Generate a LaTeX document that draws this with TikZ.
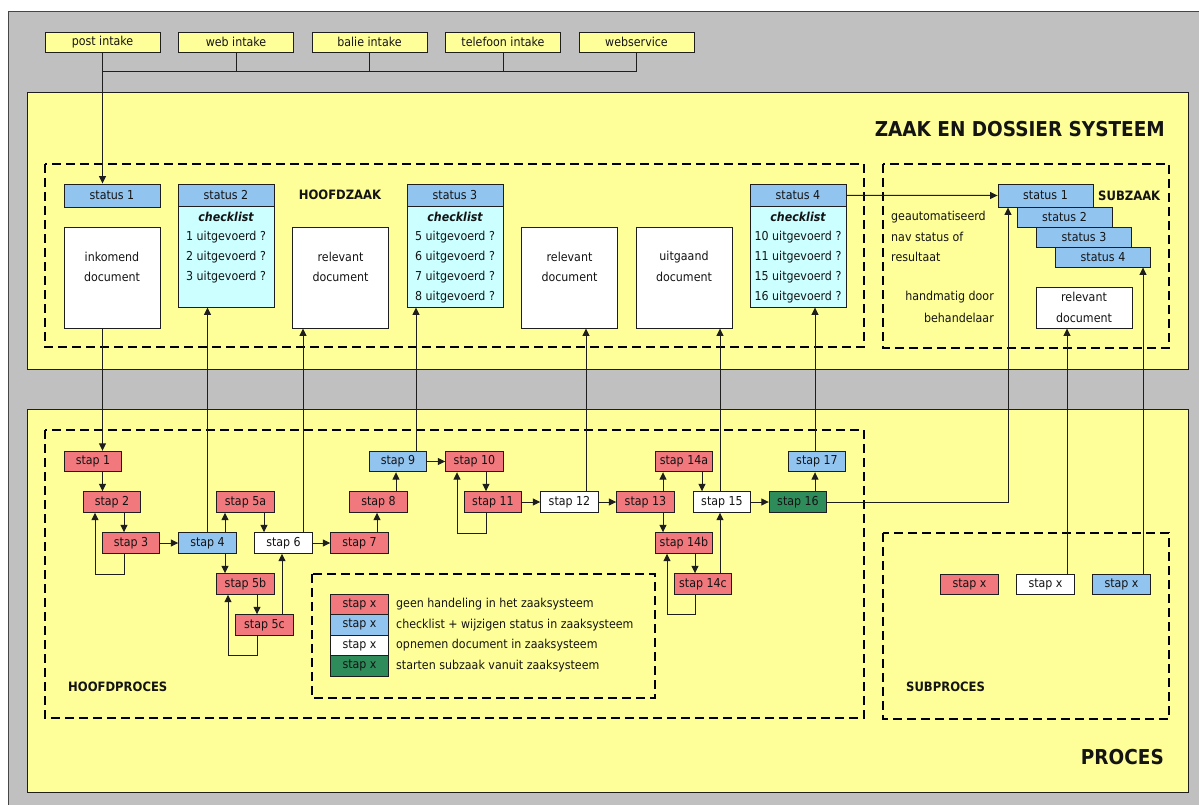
\documentclass[tikz,border=0pt]{standalone}
\usepackage{fontspec}
\setmainfont{DejaVu Sans}[FakeStretch=0.9]
\usetikzlibrary{arrows.meta}
\definecolor{bggray}{RGB}{192,192,192}
\definecolor{panel}{RGB}{255,255,153}
\definecolor{stred}{RGB}{241,120,124}
\definecolor{stblue}{RGB}{146,196,240}
\definecolor{stcyan}{RGB}{204,255,255}
\definecolor{stgreen}{RGB}{46,140,90}
\definecolor{lc}{RGB}{30,30,30}
\definecolor{tc}{RGB}{20,20,20}
\newcommand{\sfs}{\fontsize{12.3}{14}\selectfont}
\newcommand{\mfs}{\fontsize{12.9}{16}\selectfont\bfseries}
\newcommand{\tfs}{\fontsize{20.5}{24}\selectfont\bfseries}
\begin{document}
\begin{tikzpicture}[x=1pt,y=-1pt,
  every node/.style={text=tc, inner sep=0pt},
  base/.style={draw=lc, line width=0.9pt, font=\sfs},
  stapbox/.style={base, minimum width=57.5pt, minimum height=20.5pt},
  stapred/.style={stapbox, fill=stred},
  stapblue/.style={stapbox, fill=stblue},
  stapwhite/.style={stapbox, fill=white},
  stapgreen/.style={stapbox, fill=stgreen},
  intake/.style={base, fill=panel, minimum width=115pt, minimum height=20pt},
  docbox/.style={base, fill=white, minimum width=96pt, minimum height=101pt},
  statbox/.style={base, fill=stcyan, minimum width=96pt, minimum height=123pt},
  hdr/.style={base, fill=stblue, minimum width=96pt, minimum height=22.5pt},
  zstat/.style={base, fill=stblue, minimum width=95pt, minimum height=20pt},
  txt/.style={font=\sfs},
  dbox/.style={draw=black, line width=2.2pt, dash pattern=on 9pt off 5pt},
  ln/.style={draw=lc, line width=1pt},
  arr/.style={ln, -{Triangle[length=7.5pt,width=7pt]}}
]
\useasboundingbox (0,0) rectangle (1199,805);
\fill[white] (0,0) rectangle (1199,805);
\draw[fill=bggray, draw=gray!55!black, line width=0.8pt] (8,11) rectangle (1215,820);
\draw[fill=panel, draw=lc, line width=0.8pt] (27,92) rectangle (1188,369);
\draw[fill=panel, draw=lc, line width=0.8pt] (27,409) rectangle (1188,792);

% dashed groups
\draw[dbox] (45,164) rectangle (864,347);
\draw[dbox] (883,164) rectangle (1169,348);
\draw[dbox] (45,430) rectangle (864,718);
\draw[dbox] (883,533) rectangle (1169,719);
\draw[dbox] (312,574) rectangle (655,698);

% titles
\node[anchor=east, font=\tfs] (ttlzaak) at (1165,129) {ZAAK EN DOSSIER SYSTEEM};
\node[anchor=east, font=\tfs] (ttlproc) at (1164,757) {PROCES};
\node[font=\mfs] (lblhz) at (340,195) {HOOFDZAAK};
\node[font=\mfs, anchor=west] (lblsz) at (1098,196) {SUBZAAK};
\node[font=\mfs, anchor=west] (lblhp) at (68,687) {HOOFDPROCES};
\node[font=\mfs, anchor=west] (lblsp) at (906,687) {SUBPROCES};

% intake
\node[intake] (pi) at (102.5,42) {post intake};
\node[intake] (wi) at (236,42) {web intake};
\node[intake] (bi) at (369.5,42) {balie intake};
\node[intake] (ti) at (503,42) {telefoon intake};
\node[intake] (ws) at (636.5,42) {webservice};
\coordinate (junc) at (102.5,72);
\draw[ln] (wi.south) |- (junc);
\draw[ln] (bi.south) -- (bi.south |- junc);
\draw[ln] (ti.south) -- (ti.south |- junc);
\draw[ln] (ws.south) |- (junc);

% hoofdzaak
\node[hdr, minimum height=23pt] (hst1) at (112,195.5) {status 1};
\node[docbox] (ink) at (112,277.5) {};
\node[txt] (inkt1) at (112,257) {inkomend};
\node[txt] (inkt2) at (112,277) {document};

\node[statbox] (st2) at (226,245.5) {};
\node[hdr, anchor=north] (st2h) at (st2.north) {status 2};
\node[txt, font=\sfs\bfseries\itshape] (st2c) at (226,217) {checklist};
\node[txt] (st2a) at (226,237) {1 uitgevoerd ?};
\node[txt] (st2b) at (226,257) {2 uitgevoerd ?};
\node[txt] (st2d) at (226,277) {3 uitgevoerd ?};

\node[docbox] (rd1) at (340.5,277.5) {};
\node[txt] (rd1t1) at (340.5,257) {relevant};
\node[txt] (rd1t2) at (340.5,277) {document};

\node[statbox] (st3) at (455,245.5) {};
\node[hdr, anchor=north] (st3h) at (st3.north) {status 3};
\node[txt, font=\sfs\bfseries\itshape] (st3c) at (455,217) {checklist};
\node[txt] (st3a) at (455,237) {5 uitgevoerd ?};
\node[txt] (st3b) at (455,257) {6 uitgevoerd ?};
\node[txt] (st3d) at (455,277) {7 uitgevoerd ?};
\node[txt] (st3e) at (455,297) {8 uitgevoerd ?};

\node[docbox] (rd2) at (569.5,277.5) {};
\node[txt] (rd2t1) at (569.5,257) {relevant};
\node[txt] (rd2t2) at (569.5,277) {document};

\node[docbox] (uit) at (684,277.5) {};
\node[txt] (uitt1) at (684,257) {uitgaand};
\node[txt] (uitt2) at (684,277) {document};

\node[statbox] (st4) at (798,245.5) {};
\node[hdr, anchor=north] (st4h) at (st4.north) {status 4};
\node[txt, font=\sfs\bfseries\itshape] (st4c) at (798,217) {checklist};
\node[txt] (st4a) at (798,237) {10 uitgevoerd ?};
\node[txt] (st4b) at (798,257) {11 uitgevoerd ?};
\node[txt] (st4d) at (798,277) {15 uitgevoerd ?};
\node[txt] (st4e) at (798,297) {16 uitgevoerd ?};

% subzaak
\node[zstat, minimum height=23pt] (zs1) at (1045.5,195.5) {status 1};
\node[zstat] (zs2) at (1064.5,217) {status 2};
\node[zstat] (zs3) at (1084,237) {status 3};
\node[zstat] (zs4) at (1103,257) {status 4};
\node[txt, anchor=west] (zt1) at (891,217) {geautomatiseerd};
\node[txt, anchor=west] (zt2) at (891,237) {nav status of};
\node[txt, anchor=west] (zt3) at (891,257) {resultaat};
\node[txt, anchor=east] (zt4) at (994,297) {handmatig door};
\node[txt, anchor=east] (zt5) at (994,318) {behandelaar};
\node[docbox, minimum height=41pt] (zdoc) at (1084,307.5) {};
\node[txt] (zdoct1) at (1084,297) {relevant};
\node[txt] (zdoct2) at (1084,318) {document};

% hoofdproces steps
\node[stapred] (s1) at (93,461.5) {stap 1};
\node[stapred] (s2) at (112,502) {stap 2};
\node[stapred] (s3) at (131,543) {stap 3};
\node[stapblue] (s4) at (207.5,543) {stap 4};
\node[stapred] (s5a) at (245.5,502) {stap 5a};
\node[stapred] (s5b) at (245.5,584) {stap 5b};
\node[stapred] (s5c) at (264.5,625) {stap 5c};
\node[stapwhite] (s6) at (283.5,543) {stap 6};
\node[stapred] (s7) at (359.5,543) {stap 7};
\node[stapred] (s8) at (378.5,502) {stap 8};
\node[stapblue] (s9) at (398,461.5) {stap 9};
\node[stapred] (s10) at (474.5,461.5) {stap 10};
\node[stapred] (s11) at (493,502) {stap 11};
\node[stapwhite] (s12) at (569.5,502) {stap 12};
\node[stapred] (s13) at (645.5,502) {stap 13};
\node[stapred] (s14a) at (684,461.5) {stap 14a};
\node[stapred] (s14b) at (684,543) {stap 14b};
\node[stapred] (s14c) at (703,584) {stap 14c};
\node[stapwhite] (s15) at (722,502) {stap 15};
\node[stapgreen] (s16) at (798,502) {stap 16};
\node[stapblue] (s17) at (817,461.5) {stap 17};

% subproces steps
\node[stapred] (sx1) at (969.5,584.5) {stap x};
\node[stapwhite] (sx2) at (1045.5,584.5) {stap x};
\node[stapblue] (sx3) at (1121.5,584.5) {stap x};

% legend
\node[stapred] (lg1) at (359.5,604.25) {stap x};
\node[stapblue] (lg2) at (359.5,624.75) {stap x};
\node[stapwhite] (lg3) at (359.5,645.25) {stap x};
\node[stapgreen] (lg4) at (359.5,665.75) {stap x};
\node[txt, anchor=west] (lgt1) at (396,604.25) {geen handeling in het zaaksysteem};
\node[txt, anchor=west] (lgt2) at (396,624.75) {checklist + wijzigen status in zaaksysteem};
\node[txt, anchor=west] (lgt3) at (396,645.25) {opnemen document in zaaksysteem};
\node[txt, anchor=west] (lgt4) at (396,665.75) {starten subzaak vanuit zaaksysteem};

% connectors
\draw[arr] (pi.south) -- (pi.south |- hst1.north);
\draw[arr] ([xshift=-9.5pt]ink.south) -- ([xshift=9.5pt]s1.north);
\draw[arr] ([xshift=9.5pt]s1.south) -- ([xshift=-9.5pt]s2.north);
\draw[arr] ([xshift=12pt]s2.south) -- ([xshift=-7pt]s3.north);
\draw[arr] ([xshift=-7pt]s3.south) -- ++(0,21) -| ([xshift=-17pt]s2.south);
\draw[arr] (s3.east) -- (s4.west);
\draw[arr] (s4.north) -- (s4.north |- st2.south);
\draw[arr] ([xshift=17.5pt]s4.north) -- ([xshift=-20.5pt]s5a.south);
\draw[arr] ([xshift=17.5pt]s4.south) -- ([xshift=-20.5pt]s5b.north);
\draw[arr] ([xshift=18.5pt]s5a.south) -- ([xshift=-19.5pt]s6.north);
\draw[arr] ([xshift=11.5pt]s5b.south) -- ([xshift=-7.5pt]s5c.north);
\draw[arr] ([xshift=-7.5pt]s5c.south) -- ++(0,20) -| ([xshift=-17.5pt]s5b.south);
\draw[arr] ([xshift=17.5pt]s5c.north) -- ([xshift=-1.5pt]s6.south);
\draw[arr] ([xshift=19.5pt]s6.north) -- ([xshift=19.5pt]s6.north |- rd1.south);
\draw[arr] (s6.east) -- (s7.west);
\draw[arr] ([xshift=17.5pt]s7.north) -- ([xshift=-1.5pt]s8.south);
\draw[arr] ([xshift=17.5pt]s8.north) -- ([xshift=-2pt]s9.south);
\draw[arr] ([xshift=18pt]s9.north) -- ([xshift=18pt]s9.north |- st3.south);
\draw[arr] (s9.east) -- (s10.west);
\draw[arr] ([xshift=11.5pt]s10.south) -- ([xshift=-7pt]s11.north);
\draw[arr] ([xshift=-7pt]s11.south) -- ++(0,21) -| ([xshift=-17.5pt]s10.south);
\draw[arr] (s11.east) -- (s12.west);
\draw[arr] ([xshift=16.5pt]s12.north) -- ([xshift=16.5pt]s12.north |- rd2.south);
\draw[arr] (s12.east) -- (s13.west);
\draw[arr] ([xshift=17.5pt]s13.north) -- ([xshift=-21pt]s14a.south);
\draw[arr] ([xshift=17.5pt]s13.south) -- ([xshift=-21pt]s14b.north);
\draw[arr] ([xshift=18pt]s14a.south) -- ([xshift=-20pt]s15.north);
\draw[arr] ([xshift=11pt]s14b.south) -- ([xshift=-8pt]s14c.north);
\draw[arr] ([xshift=-8pt]s14c.south) -- ++(0,20) -| ([xshift=-17pt]s14b.south);
\draw[arr] ([xshift=17pt]s14c.north) -- ([xshift=-2pt]s15.south);
\draw[arr] ([xshift=-2pt]s15.north) -- ([xshift=-2pt]s15.north |- uit.south);
\draw[arr] (s15.east) -- (s16.west);
\draw[arr] ([xshift=17pt]s16.north) -- ([xshift=-2pt]s17.south);
\draw[arr] ([xshift=-2pt]s17.north) -- ([xshift=-2pt]s17.north |- st4.south);
\draw[arr] (s16.east) -| ([xshift=-37.5pt]zs1.south);
\draw[arr] (st4h.east) -- (zs1.west);
\draw[arr] ([xshift=21.5pt]sx2.north) -- ([xshift=21.5pt]sx2.north |- zdoc.south);
\draw[arr] ([xshift=21.5pt]sx3.north) -- ([xshift=21.5pt]sx3.north |- zs4.south);
\end{tikzpicture}
\end{document}
